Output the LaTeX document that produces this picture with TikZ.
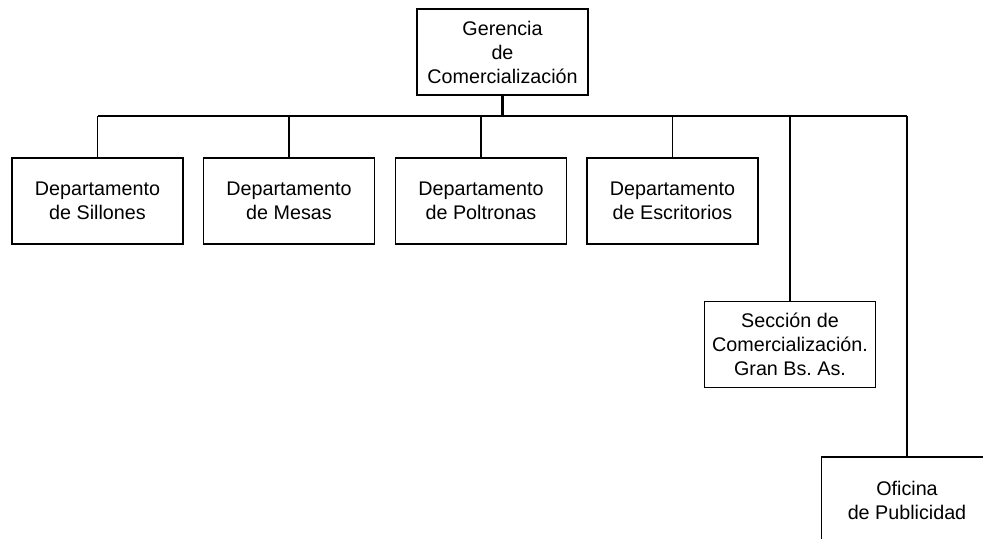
\documentclass[tikz,border=0pt]{standalone}
\usepackage{fontspec}
\setmainfont{Liberation Sans}
\frenchspacing
\begin{document}
\begin{tikzpicture}[x=0.75pt,y=-0.75pt,
  unit/.style={draw,line width=1.3pt,minimum width=128.25pt,minimum height=64.5pt,
    inner sep=0pt,align=center,font=\fontsize{14.8}{18}\selectfont},
  link/.style={line width=1.1pt},
  trunk/.style={line width=1.6pt}]
\useasboundingbox (0,0) rectangle (983,539);
\clip (0,0) rectangle (983,539);

% management at the top
\node[unit] (ger) at (502.5,52) {Gerencia\\de\\Comercialización};

% departments
\node[unit] (sil) at (97.5,201) {Departamento\\de Sillones};
\node[unit] (mes) at (289,201) {Departamento\\de Mesas};
\node[unit] (pol) at (481,201) {Departamento\\de Poltronas};
\node[unit] (esc) at (672.5,201) {Departamento\\de Escritorios};

% section and office
\node[unit] (sec) at (790,344.5) {Sección de\\Comercialización.\\Gran Bs. As.};
\node[unit] (ofi) at (907,500) {Oficina\\de Publicidad};

% horizontal bus
\coordinate (bus) at (502.5,116);
\draw[trunk] (ger.south) -- (bus);
\draw[link] (sil.north |- bus) -- (mes.north |- bus);
\draw[trunk] (mes.north |- bus) -- (ofi.north |- bus);

% drops to each unit
\draw[link] (sil.north |- bus) -- (sil.north);
\draw[link] (mes.north |- bus) -- (mes.north);
\draw[link] (pol.north |- bus) -- (pol.north);
\draw[link] (esc.north |- bus) -- (esc.north);
\draw[link] (sec.north |- bus) -- (sec.north);
\draw[link] (ofi.north |- bus) -- (ofi.north);
\end{tikzpicture}
\end{document}
